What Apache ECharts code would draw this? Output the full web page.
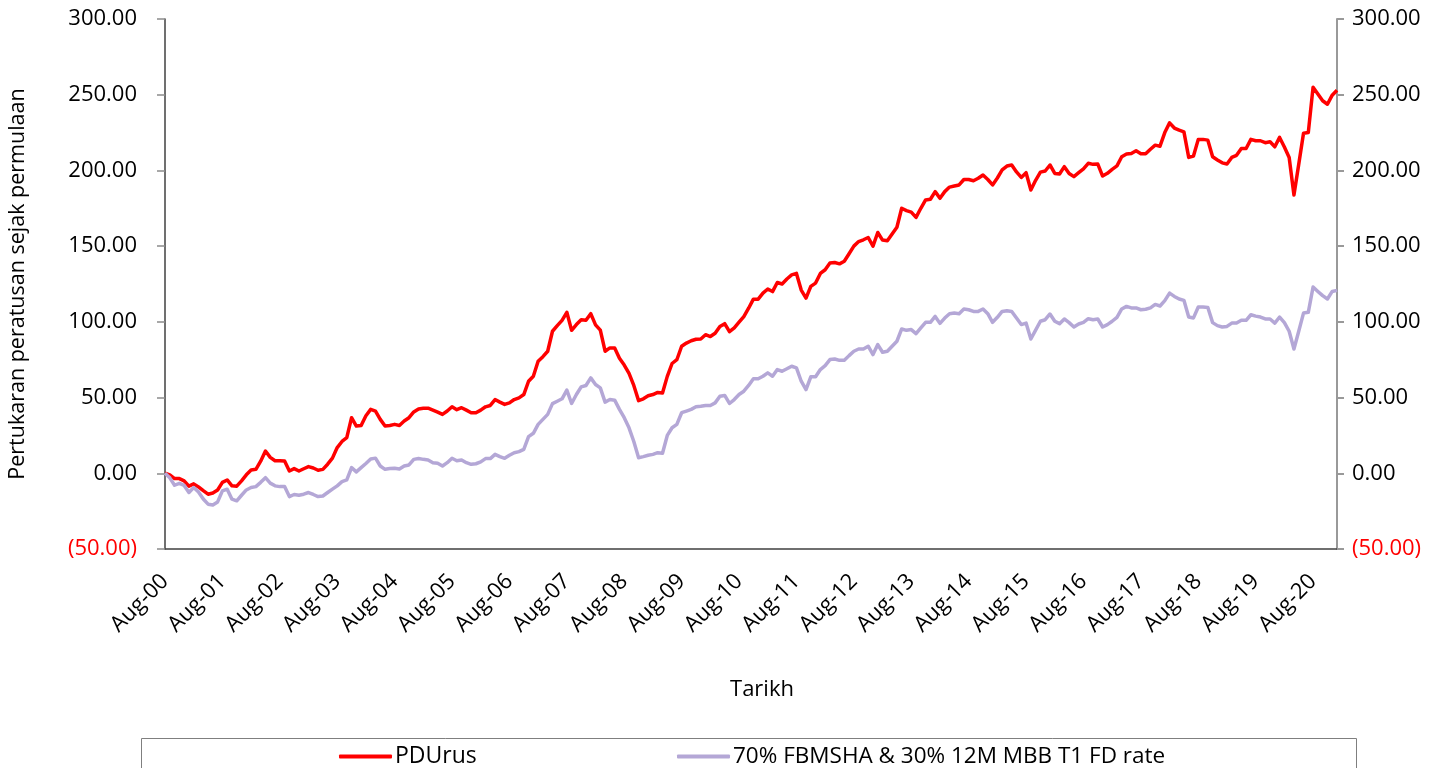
<!DOCTYPE html>
<html>
<head>
<meta charset="utf-8">
<script src="https://cdn.jsdelivr.net/npm/echarts@6/dist/echarts.min.js"></script>
<style>
html,body{margin:0;padding:0;background:#fff;}
#chart{width:1449px;height:768px;}
</style>
</head>
<body>
<div id="chart"></div>
<script>
// Monthly categories from Aug-00 to Jan-21
const monthNames = ['Jan','Feb','Mar','Apr','May','Jun','Jul','Aug','Sep','Oct','Nov','Dec'];
const startYear = 2000, startMonth = 7, monthCount = 246;
const categories = [];
for (let k = 0; k < monthCount; k++) {
  const m = (startMonth + k) % 12;
  const y = startYear + Math.floor((startMonth + k) / 12);
  categories.push(monthNames[m] + '-' + String(y % 100).padStart(2, '0'));
}

const seriesNames = ['PDUrus', '70% FBMSHA & 30% 12M MBB T1 FD rate'];

const pdurus = [
  0, -1, -3.5, -3.5, -5, -8.5, -7, -9, -11.5, -13.8,
  -13, -11, -6, -4.4, -8.3, -8.5, -5, -1, 2.2, 2.6,
  8, 14.7, 10.5, 8.3, 8.3, 8.1, 1.5, 3.1, 1.5, 3,
  4.4, 3.5, 2, 2.6, 6, 10, 17, 21, 23.5, 36.7,
  31.2, 31.6, 38, 42.2, 41.1, 35.6, 31.2, 31.6, 32.3, 31.6,
  34.5, 36.7, 40.5, 42.5, 43, 43, 41.7, 40.4, 38.9, 41.1,
  43.9, 42, 43.3, 41.7, 40, 40, 41.7, 43.9, 44.8, 48.7,
  47, 45.5, 46.5, 48.7, 49.8, 52, 60.8, 64.1, 74, 77,
  80.6, 93.8, 97.5, 101, 106.3, 94.4, 98.2, 101.4, 101, 105.4,
  98, 94.5, 80.6, 82.8, 82.8, 76, 71.5, 66, 58, 48,
  49.2, 51.2, 52, 53.4, 53, 64, 72.5, 75, 83.9, 86,
  87.5, 88.5, 88.7, 91.5, 90.3, 92.5, 97, 98.8, 93.5, 96,
  99.8, 103.5, 109, 115, 115, 119, 121.7, 120, 126, 125,
  128.3, 131, 132, 121, 115.7, 123.4, 125.6, 132, 134.4, 138.8,
  139.2, 138.3, 140, 145, 150, 153, 154.2, 155.7, 150, 159,
  154, 153.5, 158, 162.5, 175, 173.5, 172.5, 169, 175, 180.5,
  181, 186, 181.6, 186, 189, 189.7, 190.4, 194, 194, 193.2,
  194.8, 197, 194, 190.4, 195, 200.3, 202.9, 203.6, 199, 195.4,
  198.5, 187.1, 193.5, 198.9, 199.6, 203.6, 198, 197.6, 202.5, 198,
  195.9, 198.5, 201, 204.7, 204, 204.2, 196.3, 198.1, 200.7, 203,
  209, 210.8, 211.2, 213, 211, 211, 214, 216.7, 216, 225,
  231.4, 228, 226.6, 225.5, 208.6, 209.5, 220.5, 220.5, 220, 209,
  206.9, 205, 204.2, 208.6, 210, 214.5, 214.5, 220.5, 219.6, 219.6,
  218.3, 218.9, 215.6, 221.8, 215.5, 208.6, 183.8, 204, 224.5, 225,
  255, 250.5, 246, 243.7, 249.7, 253
];

const benchmark = [
  0, -3, -7.9, -6.6, -8, -12.7, -9.4, -12.3, -17, -20.4,
  -20.9, -18.9, -11.6, -10.5, -17.1, -18.2, -14.5, -11, -9.4, -8.8,
  -6, -2.9, -6.5, -8.3, -8.8, -8.8, -15.4, -14, -14.5, -13.8,
  -12.7, -14, -15.4, -15, -12.7, -10.5, -8.3, -5.5, -4.4, 3.7,
  0.9, 3.7, 6.5, 9.5, 10, 4.8, 2.6, 3.1, 3.3, 2.8,
  4.8, 5.5, 9.2, 9.7, 9.2, 8.8, 7, 6.6, 4.8, 7,
  9.9, 8.3, 8.8, 7, 5.9, 6.3, 7.5, 9.7, 9.7, 12.5,
  11, 9.9, 11.9, 13.6, 14.3, 15.8, 24.2, 26.4, 32.3, 35.6,
  38.9, 46, 47.6, 49.2, 54.9, 46.1, 52, 57.1, 58, 63,
  58.6, 56.4, 47, 48.7, 48.3, 42.2, 36.7, 30, 21, 10.3,
  11, 11.9, 12.5, 13.6, 13.2, 25, 30.1, 32.3, 40, 41.1,
  42.2, 43.9, 44.3, 44.8, 44.8, 46.5, 50.9, 51.4, 46.1, 48.7,
  52, 54.2, 58, 62.4, 62.4, 64.1, 66.3, 64.1, 68.5, 67.4,
  69, 70.7, 69.6, 60.8, 55.3, 63.7, 63.7, 68.5, 71.1, 75.1,
  75.5, 74.6, 74.6, 77.7, 80.6, 82.1, 82.1, 83.9, 78.4, 85,
  79.9, 80.6, 83.9, 87.2, 95.3, 94.4, 94.9, 92.2, 96, 99.7,
  99.7, 103.6, 99, 102.5, 105.4, 105.8, 105.4, 108.5, 108, 106.9,
  106.9, 108.5, 105.4, 99.7, 103, 106.9, 107.4, 106.9, 102.5, 98.2,
  99.2, 88.7, 94.5, 100.4, 101.4, 105.2, 100.4, 98.8, 101.9, 99.5,
  96.6, 98.6, 99.7, 102.1, 101.4, 101.9, 96.6, 98.2, 100.4, 103,
  108.5, 110.2, 109.2, 109.2, 108, 108.3, 109.2, 111.5, 110.5, 114,
  119, 116.8, 115.1, 114.2, 103.2, 102.6, 109.8, 109.8, 109.5, 99.5,
  97.5, 96.6, 97, 99.2, 99.2, 101, 101, 104.7, 103.8, 103.2,
  101.9, 101.9, 99.2, 103.2, 99.5, 93.8, 82.1, 93.8, 105.8, 106.3,
  123, 120.1, 117.3, 115.1, 120.1, 120.8
];

const yMin = -50, yMax = 300, yStep = 50;
const xTitle = 'Tarikh';
const yTitle = 'Pertukaran peratusan sejak permulaan';

const FONT = '"Open Sans", "Noto Sans", sans-serif';

function yFmt(v) {
  if (v < 0) return '{neg|(' + Math.abs(v).toFixed(2) + ')}';
  return '{pos|' + v.toFixed(2) + '}';
}
const yRich = {
  neg: { color: '#ff0000', fontSize: 22, fontFamily: FONT },
  pos: { color: '#000000', fontSize: 22, fontFamily: FONT }
};

const chart = echarts.init(document.getElementById('chart'), null, { renderer: 'canvas' });
chart.setOption({
  animation: false,
  backgroundColor: '#ffffff',
  textStyle: { fontFamily: FONT },
  grid: { left: 165, right: 112, top: 19, bottom: 219, containLabel: false, outerBoundsMode: 'none' },
  graphic: [
    {
      type: 'rect',
      shape: { x: 141.5, y: 738.5, width: 1215, height: 40 },
      style: { fill: 'none', stroke: '#7f7f7f', lineWidth: 1 },
      silent: true
    }
  ],
  legend: [
    {
      data: [seriesNames[0]],
      left: 334, top: 740,
      icon: 'roundRect', itemWidth: 53, itemHeight: 4, itemGap: 0,
      textStyle: { color: '#000', fontSize: 23, fontFamily: FONT, padding: [0, 0, 0, -2] }
    },
    {
      data: [seriesNames[1]],
      left: 672, top: 740,
      icon: 'roundRect', itemWidth: 53, itemHeight: 4, itemGap: 0,
      textStyle: { color: '#000', fontSize: 22.5, fontFamily: FONT, padding: [0, 0, 0, -2] }
    }
  ],
  xAxis: {
    type: 'category',
    data: categories,
    boundaryGap: false,
    name: xTitle,
    nameLocation: 'middle',
    nameGap: 130,
    nameTextStyle: { color: '#000', fontSize: 22, fontFamily: FONT, padding: [0, 0, 0, 22] },
    axisLine: { show: true, onZero: false, lineStyle: { color: '#404040', width: 1.5 } },
    axisTick: { show: false },
    axisLabel: {
      interval: 11,
      rotate: 45,
      margin: 29,
      color: '#000',
      fontSize: 22,
      fontFamily: FONT
    },
    splitLine: { show: false }
  },
  yAxis: [
    {
      type: 'value',
      position: 'left',
      min: yMin, max: yMax, interval: yStep,
      name: yTitle,
      nameLocation: 'middle',
      nameGap: 136,
      nameRotate: 90,
      nameTextStyle: { color: '#000', fontSize: 21.5, fontFamily: FONT },
      axisLine: { show: true, onZero: false, lineStyle: { color: '#404040', width: 1.5 } },
      axisTick: { show: true, length: 8, lineStyle: { color: '#8c8c8c', width: 1.5 } },
      axisLabel: { margin: 28, formatter: yFmt, rich: yRich },
      splitLine: { show: false }
    },
    {
      type: 'value',
      position: 'right',
      min: yMin, max: yMax, interval: yStep,
      axisLine: { show: true, onZero: false, lineStyle: { color: '#999999', width: 2 } },
      axisTick: { show: true, length: 7, lineStyle: { color: '#999999', width: 2 } },
      axisLabel: { margin: 15, formatter: yFmt, rich: yRich },
      splitLine: { show: false }
    }
  ],
  series: [
    {
      name: seriesNames[0],
      type: 'line',
      data: pdurus,
      yAxisIndex: 0,
      showSymbol: false,
      symbol: 'none',
      lineStyle: { color: '#ff0000', width: 3.5, join: 'round' },
      itemStyle: { color: '#ff0000' }
    },
    {
      name: seriesNames[1],
      type: 'line',
      data: benchmark,
      yAxisIndex: 0,
      showSymbol: false,
      symbol: 'none',
      lineStyle: { color: '#b4a7d6', width: 3.5, join: 'round' },
      itemStyle: { color: '#b4a7d6' }
    }
  ]
});
</script>
</body>
</html>
